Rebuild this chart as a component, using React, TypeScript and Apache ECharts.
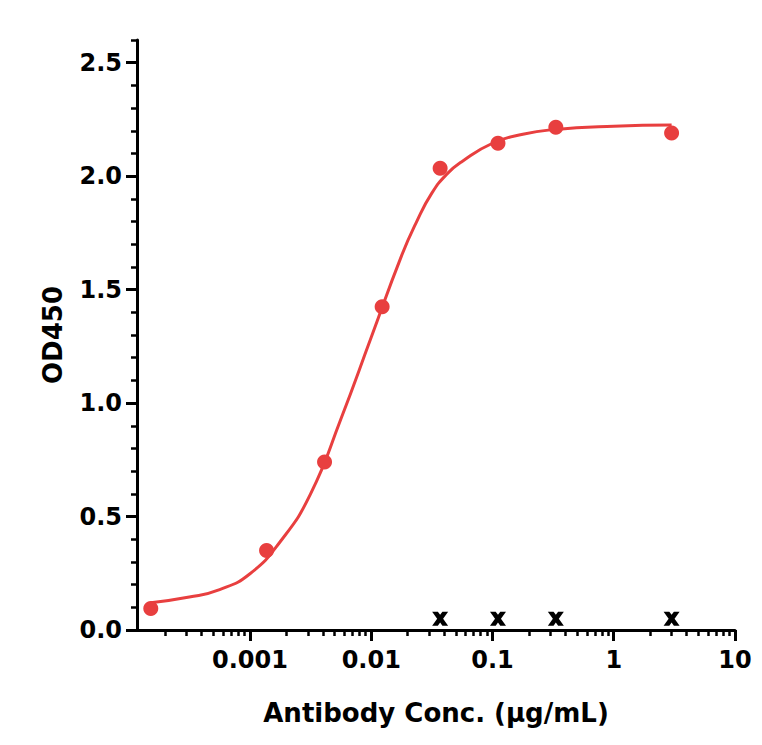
import { useEffect, useRef } from "react";
import * as echarts from "echarts";

// measured OD450 values, 3-fold dilution series
const CONC = [0.000152, 0.00137, 0.00412, 0.0123, 0.037, 0.111, 0.333, 3];
const OD = [0.095, 0.35, 0.74, 1.425, 2.035, 2.145, 2.215, 2.19];

// control wells (crosses)
const CTRL_CONC = [0.037, 0.111, 0.333, 3];
const CTRL_OD = [0.05, 0.05, 0.05, 0.05];

// fitted curve
const FIT_CONC = [
  0.000152, 0.000316, 0.000562, 0.001, 0.00178, 0.00316, 0.00562, 0.01, 0.0178, 0.0237, 0.0316, 0.0422, 0.0562, 0.1,
  0.178, 0.316, 1, 3,
];
const FIT_OD = [
  0.12, 0.145, 0.178, 0.248, 0.39, 0.6, 0.93, 1.29, 1.65, 1.8, 1.925, 2.01, 2.065, 2.145, 2.185, 2.205, 2.22, 2.225,
];

const X_TICKS = [0.001, 0.01, 0.1, 1, 10];
const X_TICK_LABELS = ["0.001", "0.01", "0.1", "1", "10"];
const X_DECADES = [0.0001, 0.001, 0.01, 0.1, 1];
const Y_TICKS = [0, 0.5, 1, 1.5, 2, 2.5];

const X_MIN = 0.000117;
const X_MAX = 10;
const Y_MIN = 0;
const Y_MAX = 2.6;

const RED = "#e83f3f";
const FONT = "'DejaVu Sans', sans-serif";
// bold X with flat caps top and bottom
const CROSS =
  "path://M0,0 L5,0 L7,2.6 L9,0 L14,0 L9.6,6 L14,12 L9,12 L7,9.4 L5,12 L0,12 L4.4,6 Z";

const lg = (v: number) => Math.log10(v);

const X_MINOR = X_DECADES.flatMap((d) => [2, 3, 4, 5, 6, 7, 8, 9].map((k) => lg(k * d))).filter(
  (v) => v > lg(X_MIN) && v < lg(X_MAX),
);
const Y_MINOR: number[] = [];
for (let i = 1; i <= 26; i++) {
  if (i % 5 !== 0) Y_MINOR.push(Number((i / 10).toFixed(1)));
}

const GRID = { left: 137, right: 27, top: 40, bottom: 115 };

const labelStyle = {
  color: "#000",
  fontFamily: FONT,
  fontWeight: "bold" as const,
  fontSize: 24,
};

const nameStyle = {
  color: "#000",
  fontFamily: FONT,
  fontWeight: "bold" as const,
  fontSize: 26,
};

function buildOption() {
  const xTickVals = X_TICKS.map(lg);
  return {
    animation: false,
    backgroundColor: "#fff",
    grid: [{ ...GRID }, { ...GRID }],
    xAxis: [
      {
        type: "value",
        gridIndex: 0,
        min: lg(X_MIN),
        max: lg(X_MAX),
        axisLine: { show: true, onZero: false, lineStyle: { color: "#000", width: 3 } },
        axisTick: { show: true, customValues: xTickVals, length: 11, lineStyle: { color: "#000", width: 3 } },
        axisLabel: {
          ...labelStyle,
          customValues: xTickVals,
          margin: 18,
          formatter: (v: number) => {
            const i = xTickVals.findIndex((t) => Math.abs(t - v) < 1e-6);
            return i >= 0 ? X_TICK_LABELS[i] : "";
          },
        },
        splitLine: { show: false },
        name: "Antibody Conc. (µg/mL)",
        nameLocation: "middle",
        nameGap: 70,
        nameTextStyle: nameStyle,
      },
      {
        type: "value",
        gridIndex: 1,
        min: lg(X_MIN),
        max: lg(X_MAX),
        axisLine: { show: false, onZero: false },
        axisTick: { show: true, customValues: X_MINOR, length: 6, lineStyle: { color: "#000", width: 2.5 } },
        axisLabel: { show: false },
        splitLine: { show: false },
      },
    ],
    yAxis: [
      {
        type: "value",
        gridIndex: 0,
        min: Y_MIN,
        max: Y_MAX,
        axisLine: { show: true, onZero: false, lineStyle: { color: "#000", width: 3 } },
        axisTick: { show: true, customValues: Y_TICKS, length: 11, lineStyle: { color: "#000", width: 3 } },
        axisLabel: {
          ...labelStyle,
          customValues: Y_TICKS,
          margin: 15,
          formatter: (v: number) => v.toFixed(1),
        },
        splitLine: { show: false },
        name: "OD450",
        nameLocation: "middle",
        nameGap: 71,
        nameTextStyle: nameStyle,
      },
      {
        type: "value",
        gridIndex: 1,
        min: Y_MIN,
        max: Y_MAX,
        axisLine: { show: false, onZero: false },
        axisTick: { show: true, customValues: Y_MINOR, length: 6, lineStyle: { color: "#000", width: 2.5 } },
        axisLabel: { show: false },
        splitLine: { show: false },
      },
    ],
    series: [
      {
        name: "Fit",
        type: "line",
        xAxisIndex: 0,
        yAxisIndex: 0,
        data: FIT_CONC.map((c, i) => [lg(c), FIT_OD[i]]),
        smooth: 0.5,
        showSymbol: false,
        lineStyle: { color: RED, width: 3 },
        z: 2,
      },
      {
        name: "OD450",
        type: "scatter",
        xAxisIndex: 0,
        yAxisIndex: 0,
        data: CONC.map((c, i) => [lg(c), OD[i]]),
        symbol: "circle",
        symbolSize: 15,
        itemStyle: { color: RED, opacity: 1 },
        z: 3,
      },
      {
        name: "Control",
        type: "scatter",
        xAxisIndex: 0,
        yAxisIndex: 0,
        data: CTRL_CONC.map((c, i) => [lg(c), CTRL_OD[i]]),
        symbol: CROSS,
        symbolSize: [16, 14],
        itemStyle: { color: "#000", opacity: 1 },
        z: 4,
      },
    ],
  };
}

export default function App() {
  const ref = useRef<HTMLDivElement | null>(null);

  useEffect(() => {
    if (!ref.current) {
      return;
    }
    const chart = echarts.init(ref.current, undefined, { renderer: "svg" });
    chart.setOption(buildOption());
    return () => {
      chart.dispose();
    };
  }, []);

  return <div ref={ref} style={{ position: "absolute", left: 0, top: 0, width: 762, height: 745 }} />;
}
